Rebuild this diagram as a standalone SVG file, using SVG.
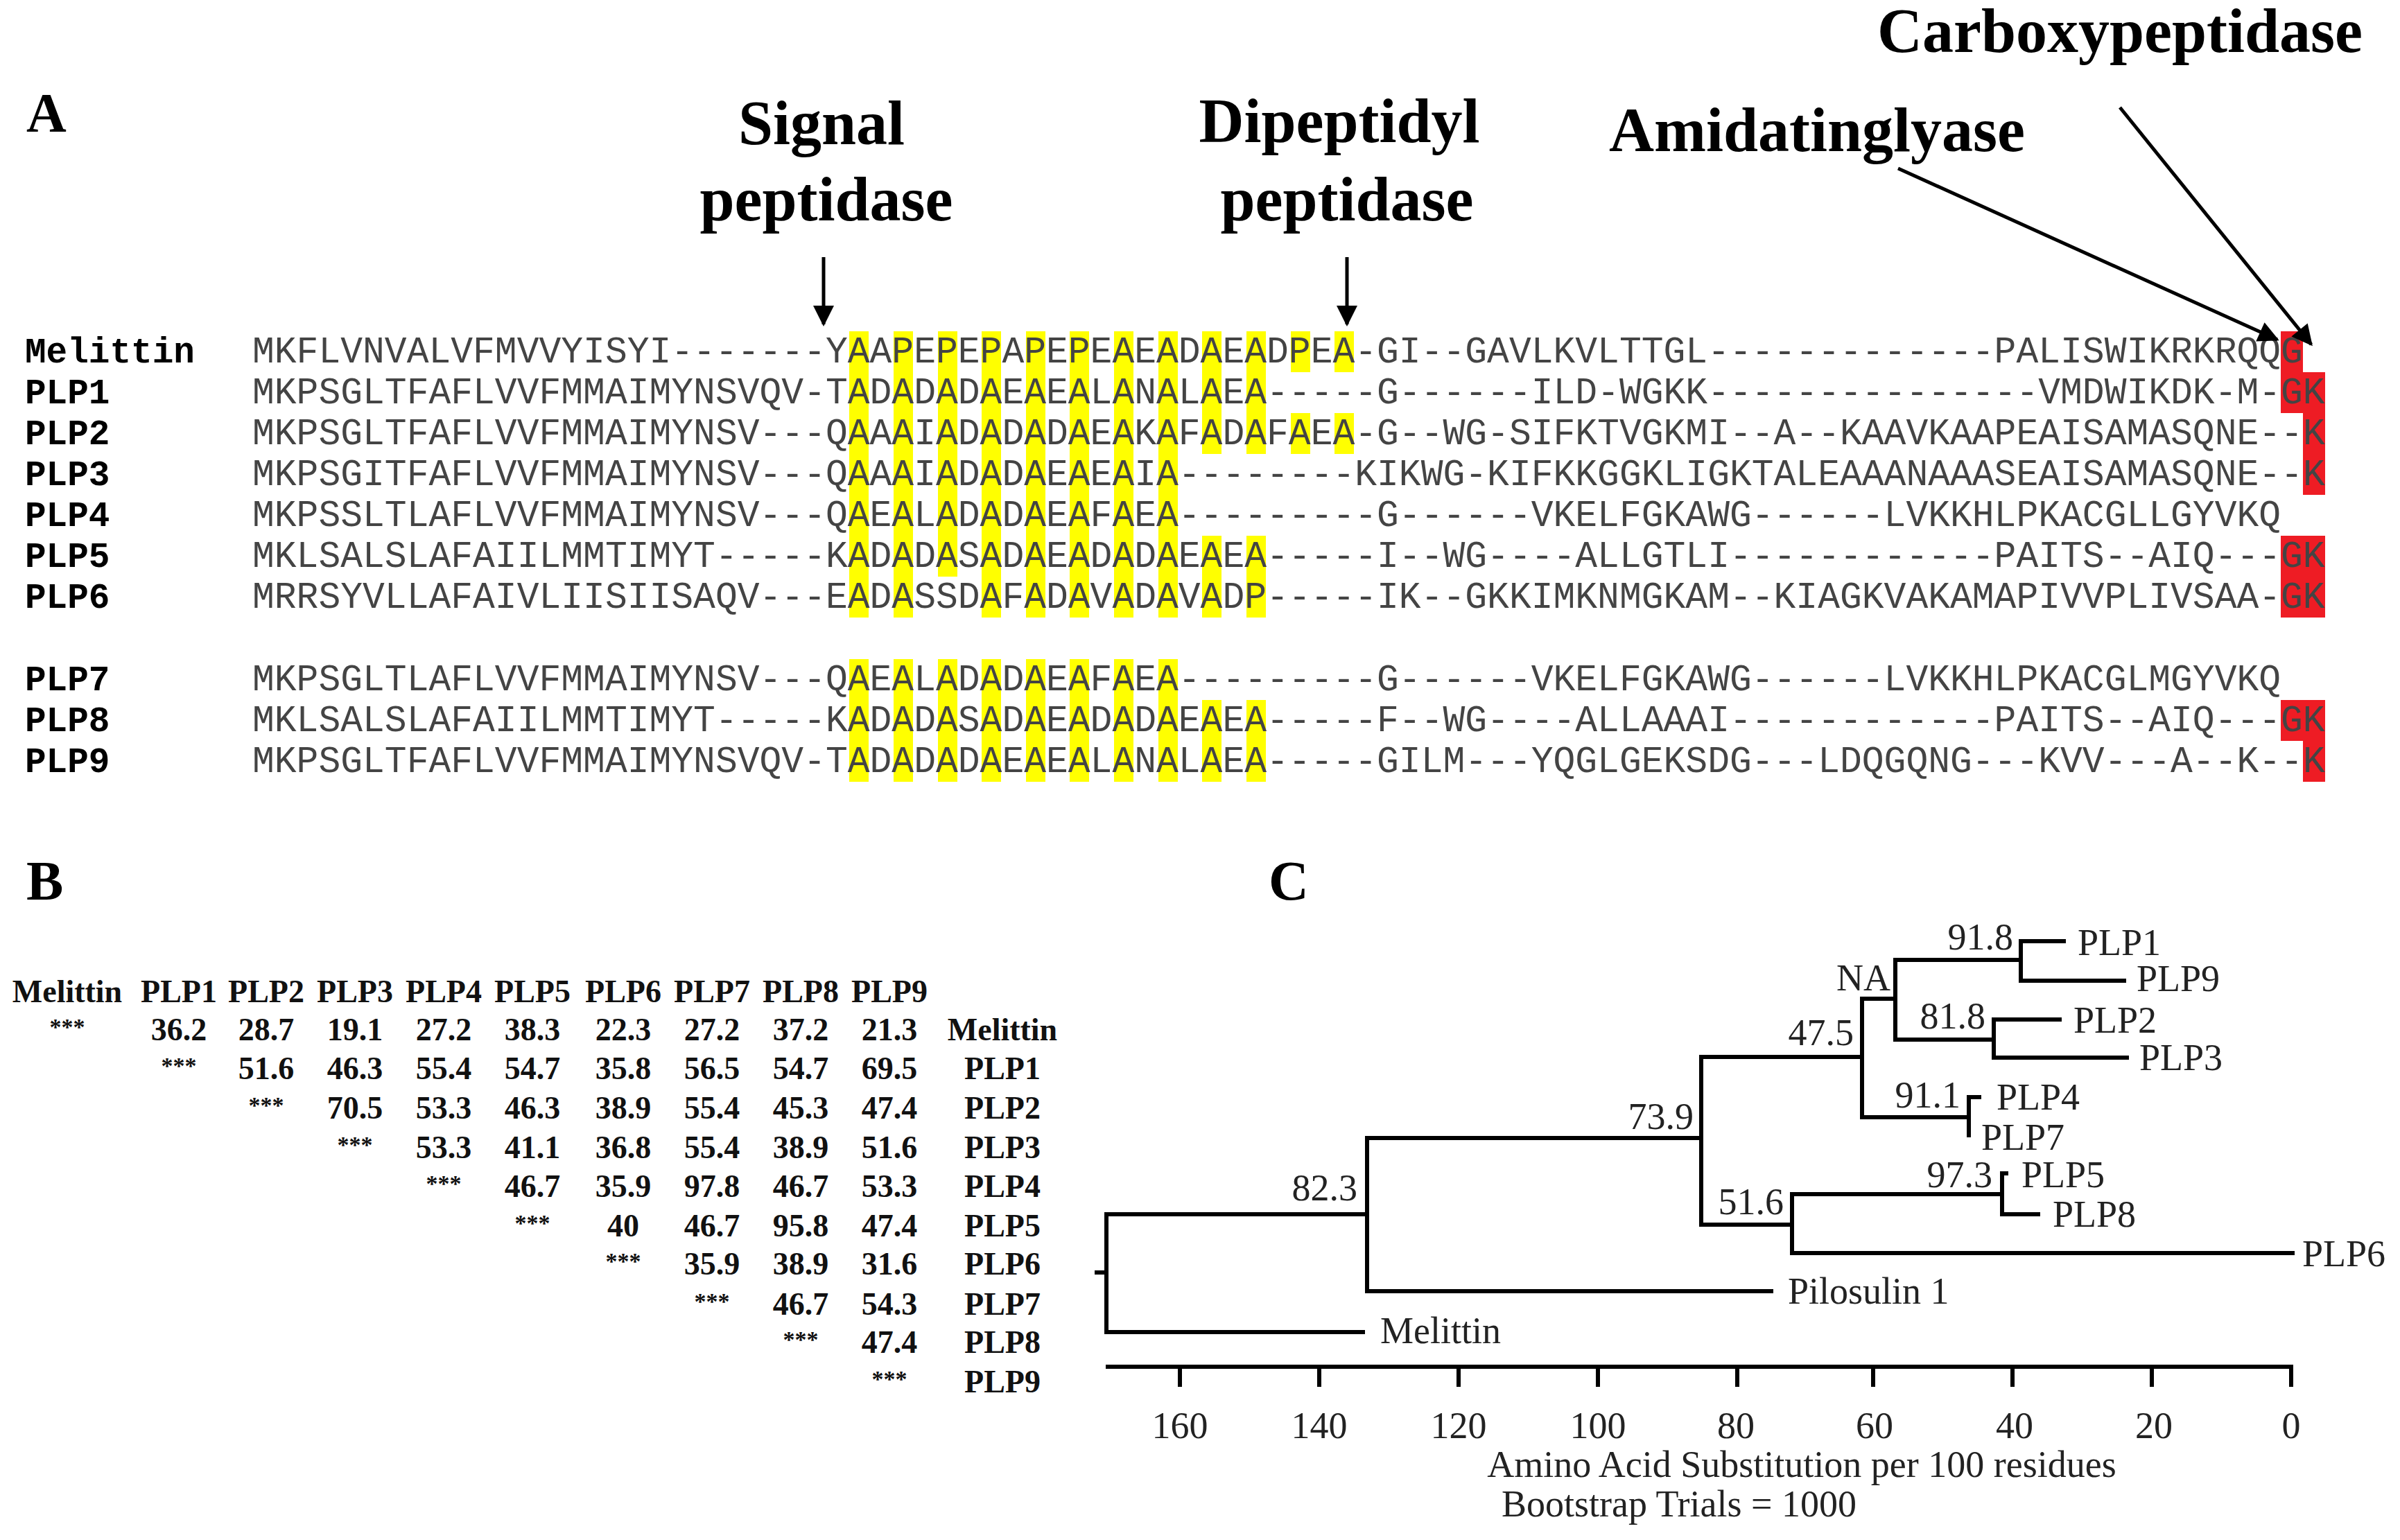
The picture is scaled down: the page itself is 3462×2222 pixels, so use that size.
<svg xmlns="http://www.w3.org/2000/svg" width="3462" height="2222" viewBox="0 0 3462 2222">
<style>
.pl{font-family:"Liberation Serif",serif;font-weight:bold;font-size:80px;fill:#000}
.hd{font-family:"Liberation Serif",serif;font-weight:bold;font-size:90px;fill:#000}
.nm{font-family:"Liberation Mono",monospace;font-weight:bold;font-size:51px;fill:#000}
.sq{font-family:"Liberation Mono",monospace;font-size:53px;fill:#444}
.mt{font-family:"Liberation Serif",serif;font-weight:bold;font-size:46px;fill:#111;text-anchor:middle}
.st{font-family:"Liberation Serif",serif;font-weight:bold;font-size:34px;fill:#111;text-anchor:middle}
.tl{font-family:"Liberation Serif",serif;font-size:54px;fill:#222}
.br{stroke:#000;stroke-width:6;fill:none;stroke-linecap:square}
.y{fill:#ffff00}
.r{fill:#ee1c24}
.ar{stroke:#000;stroke-width:5;fill:none}
</style>
<defs>
<marker id="ah" viewBox="0 0 10 10" refX="9" refY="5" markerWidth="7" markerHeight="6" orient="auto" markerUnits="strokeWidth">
<path d="M0,0 L10,5 L0,10 z" fill="#000"/>
</marker>
</defs>
<rect width="3462" height="2222" fill="#fff"/>

<g id="panelA">
<text class="pl" x="38" y="190">A</text>
<g id="lbl-signal"><text class="hd" x="1185" y="208" text-anchor="middle">Signal</text><text class="hd" x="1192" y="318" text-anchor="middle">peptidase</text></g>
<g id="lbl-dipeptidyl"><text class="hd" x="1932" y="205" text-anchor="middle">Dipeptidyl</text><text class="hd" x="1943" y="318" text-anchor="middle">peptidase</text></g>
<g id="lbl-amid"><text class="hd" x="2621" y="218" text-anchor="middle">Amidatinglyase</text></g>
<g id="lbl-carboxy"><text class="hd" x="3058" y="75" text-anchor="middle">Carboxypeptidase</text></g>

<g id="highlights">
<rect class="y" x="1225" y="478" width="28" height="413"/>
<rect class="y" x="1289" y="478" width="28" height="413"/>
<rect class="y" x="1353" y="478" width="28" height="354"/>
<rect class="y" x="1416" y="478" width="28" height="413"/>
<rect class="y" x="1480" y="478" width="28" height="413"/>
<rect class="y" x="1543" y="478" width="28" height="413"/>
<rect class="y" x="1607" y="478" width="28" height="413"/>
<rect class="y" x="1671" y="478" width="28" height="413"/>
<rect class="y" x="1734" y="478" width="28" height="177"/>
<rect class="y" x="1798" y="478" width="28" height="177"/>
<rect class="y" x="1734" y="773" width="28" height="118"/>
<rect class="y" x="1798" y="773" width="28" height="118"/>
<rect class="y" x="1862" y="478" width="28" height="59"/>
<rect class="y" x="1925" y="478" width="28" height="59"/>
<rect class="y" x="1862" y="596" width="28" height="59"/>
<rect class="y" x="1925" y="596" width="28" height="59"/>
<rect class="y" x="1225" y="951" width="28" height="177"/>
<rect class="y" x="1289" y="951" width="28" height="177"/>
<rect class="y" x="1353" y="951" width="28" height="177"/>
<rect class="y" x="1416" y="951" width="28" height="177"/>
<rect class="y" x="1480" y="951" width="28" height="177"/>
<rect class="y" x="1543" y="951" width="28" height="177"/>
<rect class="y" x="1607" y="951" width="28" height="177"/>
<rect class="y" x="1671" y="951" width="28" height="177"/>
<rect class="y" x="1734" y="1010" width="28" height="118"/>
<rect class="y" x="1798" y="1010" width="28" height="118"/>
<rect class="r" x="3290" y="478" width="32" height="59"/>
<rect class="r" x="3290" y="537" width="64" height="59"/>
<rect class="r" x="3322" y="596" width="32" height="118"/>
<rect class="r" x="3290" y="773" width="64" height="118"/>
<rect class="r" x="3290" y="1010" width="64" height="59"/>
<rect class="r" x="3322" y="1069" width="32" height="59"/>
</g>

<g id="seq-melittin"><text class="nm" x="36" y="523">Melittin</text><text class="sq" x="364" y="523">MKFLVNVALVFMVVYISYI-------YAAPEPEPAPEPEAEADAEADPEA-GI--GAVLKVLTTGL-------------PALISWIKRKRQQ</text><text class="sq" x="3290" y="523">G</text></g>
<g id="seq-plp1"><text class="nm" x="36" y="582">PLP1</text><text class="sq" x="364" y="582">MKPSGLTFAFLVVFMMAIMYNSVQV-TADADADAEAEALANALAEA-----G------ILD-WGKK---------------VMDWIKDK-M-</text><text class="sq" x="3290" y="582">GK</text></g>
<g id="seq-plp2"><text class="nm" x="36" y="641">PLP2</text><text class="sq" x="364" y="641">MKPSGLTFAFLVVFMMAIMYNSV---QAAAIADADADAEAKAFADAFAEA-G--WG-SIFKTVGKMI--A--KAAVKAAPEAISAMASQNE--</text><text class="sq" x="3322" y="641">K</text></g>
<g id="seq-plp3"><text class="nm" x="36" y="700">PLP3</text><text class="sq" x="364" y="700">MKPSGITFAFLVVFMMAIMYNSV---QAAAIADADAEAEAIA--------KIKWG-KIFKKGGKLIGKTALEAAANAAASEAISAMASQNE--</text><text class="sq" x="3322" y="700">K</text></g>
<g id="seq-plp4"><text class="nm" x="36" y="759">PLP4</text><text class="sq" x="364" y="759">MKPSSLTLAFLVVFMMAIMYNSV---QAEALADADAEAFAEA---------G------VKELFGKAWG------LVKKHLPKACGLLGYVKQ</text></g>
<g id="seq-plp5"><text class="nm" x="36" y="818">PLP5</text><text class="sq" x="364" y="818">MKLSALSLAFAIILMMTIMYT-----KADADASADAEADADAEAEA-----I--WG----ALLGTLI------------PAITS--AIQ---</text><text class="sq" x="3290" y="818">GK</text></g>
<g id="seq-plp6"><text class="nm" x="36" y="877">PLP6</text><text class="sq" x="364" y="877">MRRSYVLLAFAIVLIISIISAQV---EADASSDAFADAVADAVADP-----IK--GKKIMKNMGKAM--KIAGKVAKAMAPIVVPLIVSAA-</text><text class="sq" x="3290" y="877">GK</text></g>
<g id="seq-plp7"><text class="nm" x="36" y="996">PLP7</text><text class="sq" x="364" y="996">MKPSGLTLAFLVVFMMAIMYNSV---QAEALADADAEAFAEA---------G------VKELFGKAWG------LVKKHLPKACGLMGYVKQ</text></g>
<g id="seq-plp8"><text class="nm" x="36" y="1055">PLP8</text><text class="sq" x="364" y="1055">MKLSALSLAFAIILMMTIMYT-----KADADASADAEADADAEAEA-----F--WG----ALLAAAI------------PAITS--AIQ---</text><text class="sq" x="3290" y="1055">GK</text></g>
<g id="seq-plp9"><text class="nm" x="36" y="1114">PLP9</text><text class="sq" x="364" y="1114">MKPSGLTFAFLVVFMMAIMYNSVQV-TADADADAEAEALANALAEA-----GILM---YQGLGEKSDG---LDQGQNG---KVV---A--K--</text><text class="sq" x="3322" y="1114">K</text></g>
</g>

<g id="connectors">
<line class="ar" x1="1188" y1="371" x2="1188" y2="468" marker-end="url(#ah)"/>
<line class="ar" x1="1943" y1="371" x2="1943" y2="468" marker-end="url(#ah)"/>
<line class="ar" x1="2738" y1="243" x2="3285" y2="490" marker-end="url(#ah)"/>
<line class="ar" x1="3058" y1="155" x2="3334" y2="497" marker-end="url(#ah)"/>
</g>

<g id="panelB">
<text class="pl" x="38" y="1298">B</text>
<g id="mheader">
<text class="mt" x="97" y="1446">Melittin</text><text class="mt" x="258" y="1446">PLP1</text><text class="mt" x="384" y="1446">PLP2</text><text class="mt" x="512" y="1446">PLP3</text><text class="mt" x="640" y="1446">PLP4</text><text class="mt" x="768" y="1446">PLP5</text><text class="mt" x="899" y="1446">PLP6</text><text class="mt" x="1027" y="1446">PLP7</text><text class="mt" x="1155" y="1446">PLP8</text><text class="mt" x="1283" y="1446">PLP9</text>
</g>
<g id="mrows">
<text class="st" x="97" y="1493">***</text><text class="mt" x="258" y="1501">36.2</text><text class="mt" x="384" y="1501">28.7</text><text class="mt" x="512" y="1501">19.1</text><text class="mt" x="640" y="1501">27.2</text><text class="mt" x="768" y="1501">38.3</text><text class="mt" x="899" y="1501">22.3</text><text class="mt" x="1027" y="1501">27.2</text><text class="mt" x="1155" y="1501">37.2</text><text class="mt" x="1283" y="1501">21.3</text><text class="mt" x="1446" y="1501">Melittin</text>
<text class="st" x="258" y="1549">***</text><text class="mt" x="384" y="1557">51.6</text><text class="mt" x="512" y="1557">46.3</text><text class="mt" x="640" y="1557">55.4</text><text class="mt" x="768" y="1557">54.7</text><text class="mt" x="899" y="1557">35.8</text><text class="mt" x="1027" y="1557">56.5</text><text class="mt" x="1155" y="1557">54.7</text><text class="mt" x="1283" y="1557">69.5</text><text class="mt" x="1446" y="1557">PLP1</text>
<text class="st" x="384" y="1606">***</text><text class="mt" x="512" y="1614">70.5</text><text class="mt" x="640" y="1614">53.3</text><text class="mt" x="768" y="1614">46.3</text><text class="mt" x="899" y="1614">38.9</text><text class="mt" x="1027" y="1614">55.4</text><text class="mt" x="1155" y="1614">45.3</text><text class="mt" x="1283" y="1614">47.4</text><text class="mt" x="1446" y="1614">PLP2</text>
<text class="st" x="512" y="1663">***</text><text class="mt" x="640" y="1671">53.3</text><text class="mt" x="768" y="1671">41.1</text><text class="mt" x="899" y="1671">36.8</text><text class="mt" x="1027" y="1671">55.4</text><text class="mt" x="1155" y="1671">38.9</text><text class="mt" x="1283" y="1671">51.6</text><text class="mt" x="1446" y="1671">PLP3</text>
<text class="st" x="640" y="1719">***</text><text class="mt" x="768" y="1727">46.7</text><text class="mt" x="899" y="1727">35.9</text><text class="mt" x="1027" y="1727">97.8</text><text class="mt" x="1155" y="1727">46.7</text><text class="mt" x="1283" y="1727">53.3</text><text class="mt" x="1446" y="1727">PLP4</text>
<text class="st" x="768" y="1776">***</text><text class="mt" x="899" y="1784">40</text><text class="mt" x="1027" y="1784">46.7</text><text class="mt" x="1155" y="1784">95.8</text><text class="mt" x="1283" y="1784">47.4</text><text class="mt" x="1446" y="1784">PLP5</text>
<text class="st" x="899" y="1831">***</text><text class="mt" x="1027" y="1839">35.9</text><text class="mt" x="1155" y="1839">38.9</text><text class="mt" x="1283" y="1839">31.6</text><text class="mt" x="1446" y="1839">PLP6</text>
<text class="st" x="1027" y="1889">***</text><text class="mt" x="1155" y="1897">46.7</text><text class="mt" x="1283" y="1897">54.3</text><text class="mt" x="1446" y="1897">PLP7</text>
<text class="st" x="1155" y="1944">***</text><text class="mt" x="1283" y="1952">47.4</text><text class="mt" x="1446" y="1952">PLP8</text>
<text class="st" x="1283" y="2001">***</text><text class="mt" x="1446" y="2009">PLP9</text>
</g>
</g>

<g id="panelC">
<text class="pl" x="1830" y="1298">C</text>
<g id="tree-branches">
<path class="br" d="M1582,1836 H1596 M1596,1752 V1922 M1596,1922 H1966 M1596,1752 H1972 M1972,1642 V1863 M1972,1863 H2555 M1972,1642 H2454 M2454,1525 V1767 M2454,1767 H2585 M2585,1723 V1808 M2585,1808 H3307 M2585,1723 H2888 M2888,1693 V1752 M2888,1693 H2894 M2888,1752 H2940 M2454,1525 H2686 M2686,1441 V1612 M2686,1612 H2840 M2840,1583 V1638 M2840,1583 H2855 M2686,1441 H2734 M2734,1385 V1500 M2734,1385 H2915 M2915,1358 V1415 M2915,1358 H2977 M2915,1415 H3064 M2734,1500 H2876 M2876,1471 V1526 M2876,1471 H2971 M2876,1526 H3068"/>
</g>
<g id="tree-labels">
<text class="tl" x="1991" y="1938">Melittin</text>
<text class="tl" x="2579" y="1881">Pilosulin 1</text>
<text class="tl" x="3321" y="1827">PLP6</text>
<text class="tl" x="2916" y="1713">PLP5</text>
<text class="tl" x="2961" y="1770">PLP8</text>
<text class="tl" x="2880" y="1601">PLP4</text>
<text class="tl" x="2858" y="1659">PLP7</text>
<text class="tl" x="2997" y="1378">PLP1</text>
<text class="tl" x="3082" y="1430">PLP9</text>
<text class="tl" x="2991" y="1490">PLP2</text>
<text class="tl" x="3086" y="1544">PLP3</text>
<g text-anchor="end">
<text class="tl" x="1958" y="1732">82.3</text>
<text class="tl" x="2443" y="1629">73.9</text>
<text class="tl" x="2573" y="1752">51.6</text>
<text class="tl" x="2874" y="1713">97.3</text>
<text class="tl" x="2674" y="1508">47.5</text>
<text class="tl" x="2828" y="1598">91.1</text>
<text class="tl" x="2727" y="1429">NA</text>
<text class="tl" x="2904" y="1370">91.8</text>
<text class="tl" x="2864" y="1484">81.8</text>
</g>
</g>
<g id="axis">
<path class="br" d="M1598,1972 H3305 M1702,1972 V1998 M1903,1972 V1998 M2104,1972 V1998 M2305,1972 V1998 M2506,1972 V1998 M2702,1972 V1998 M2903,1972 V1998 M3104,1972 V1998 M3305,1972 V1998"/>
<g text-anchor="middle">
<text class="tl" x="1702" y="2075">160</text><text class="tl" x="1903" y="2075">140</text><text class="tl" x="2104" y="2075">120</text><text class="tl" x="2305" y="2075">100</text><text class="tl" x="2504" y="2075">80</text><text class="tl" x="2704" y="2075">60</text><text class="tl" x="2906" y="2075">40</text><text class="tl" x="3107" y="2075">20</text><text class="tl" x="3305" y="2075">0</text>
<text class="tl" x="2599" y="2131">Amino Acid Substitution per 100 residues</text>
<text class="tl" x="2422" y="2188">Bootstrap Trials = 1000</text>
</g>
</g>
</g>
</svg>
